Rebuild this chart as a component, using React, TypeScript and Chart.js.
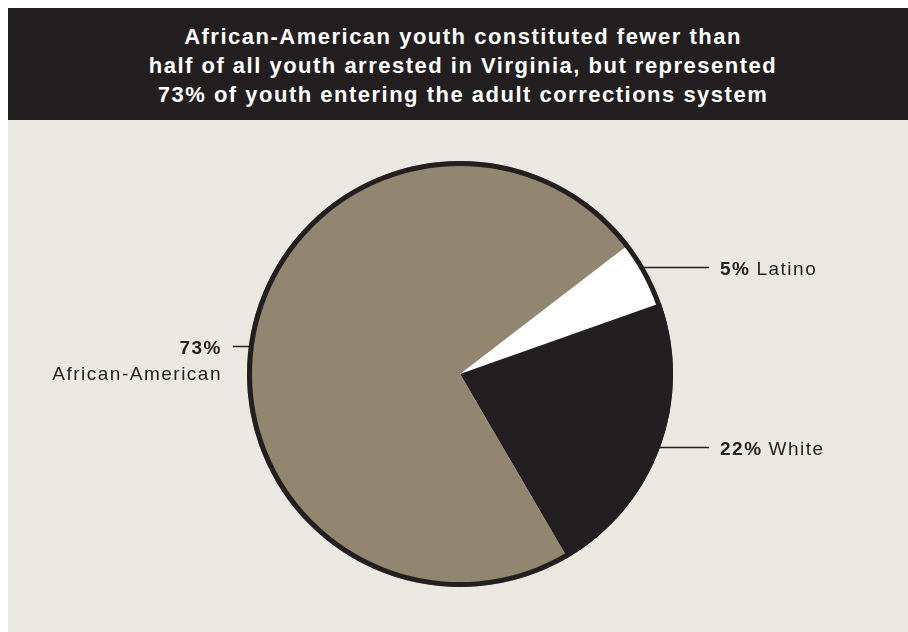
import React, { useEffect, useRef } from "react";
import { Chart, registerables } from "chart.js";

Chart.register(...registerables);

const categories = ["Latino", "White", "African-American"];
const shares = [5, 22, 73];
const percentLabels = ["5%", "22%", "73%"];
const sliceColors = ["#ffffff", "#231f20", "#928670"];
// fraction along each slice's arc where its leader line starts
const labelAnchor = [0.41, 0.5, 0.486];

const titleLines = [
  "African-American youth constituted fewer than",
  "half of all youth arrested in Virginia, but represented",
  "73% of youth entering the adult corrections system",
];

const INK = "#231f20";
const BEIGE = "#ebe8e2";
const FONT = "'Liberation Sans', Arial, sans-serif";

const outlineAndLabels = {
  id: "outlineAndLabels",
  afterDatasetsDraw(chart: any) {
    const ctx = chart.ctx as CanvasRenderingContext2D;
    const arcs = chart.getDatasetMeta(0).data as any[];
    if (!arcs.length) return;
    const cx = arcs[0].x;
    const cy = arcs[0].y;
    const r = arcs[0].outerRadius;
    ctx.save();
    const anchors: { y: number; right: boolean; i: number }[] = [];
    arcs.forEach((arc, i) => {
      const p = arc.getProps(["startAngle", "endAngle"], true);
      const ang = p.startAngle + (p.endAngle - p.startAngle) * labelAnchor[i];
      const ex = cx + Math.cos(ang) * r;
      const ey = cy + Math.sin(ang) * r;
      const right = Math.cos(ang) >= 0;
      const y = Math.round(ey) + 0.5;
      ctx.beginPath();
      ctx.lineWidth = 1.5;
      ctx.strokeStyle = INK;
      if (right) {
        ctx.moveTo(ex - 4, y);
        ctx.lineTo(cx + r + 36, y);
      } else {
        ctx.moveTo(ex + 4, y);
        ctx.lineTo(cx - r - 14, y);
      }
      ctx.stroke();
      anchors.push({ y, right, i });
    });
    // outer ring
    ctx.beginPath();
    ctx.arc(cx, cy, r - 2.5, 0, Math.PI * 2);
    ctx.lineWidth = 5;
    ctx.strokeStyle = INK;
    ctx.stroke();
    // texts
    ctx.fillStyle = INK;
    ctx.textBaseline = "alphabetic";
    (ctx as any).letterSpacing = "1.5px";
    anchors.forEach(({ y, right, i }) => {
      if (right) {
        const x0 = cx + r + 47;
        ctx.textAlign = "left";
        ctx.font = `bold 19px ${FONT}`;
        ctx.fillText(percentLabels[i], x0, y + 7);
        const w = ctx.measureText(percentLabels[i]).width;
        ctx.font = `19px ${FONT}`;
        ctx.fillText(categories[i], x0 + w + 6, y + 7);
      } else {
        const x1 = cx - r - 25;
        ctx.textAlign = "right";
        ctx.font = `bold 19px ${FONT}`;
        ctx.fillText(percentLabels[i], x1, y + 7);
        ctx.font = `19px ${FONT}`;
        ctx.fillText(categories[i], x1, y + 33);
      }
    });
    ctx.restore();
  },
};

export default function App() {
  const canvasRef = useRef<HTMLCanvasElement | null>(null);

  useEffect(() => {
    document.body.style.overflow = "hidden";
    const canvas = canvasRef.current;
    if (!canvas) return;
    const chart = new Chart(canvas, {
      type: "pie",
      data: {
        labels: categories,
        datasets: [
          {
            data: shares,
            backgroundColor: sliceColors,
            borderWidth: 0,
            hoverOffset: 0,
          },
        ],
      },
      options: {
        animation: false,
        responsive: true,
        maintainAspectRatio: false,
        rotation: 52.5,
        layout: { padding: { top: 41, bottom: 45, left: 0, right: 16 } },
        plugins: {
          legend: { display: false },
          tooltip: { enabled: false },
          title: { display: false },
        },
        events: [],
      },
      plugins: [outlineAndLabels],
    });
    return () => chart.destroy();
  }, []);

  return (
    <div
      style={{
        position: "fixed",
        left: 8,
        top: 8,
        right: 0,
        bottom: 0,
        overflow: "hidden",
        background: BEIGE,
        fontFamily: FONT,
      }}
    >
      <div style={{ background: INK, height: 112, width: "100%", position: "absolute", left: 0, top: 0 }} />
      <div style={{ position: "absolute", left: 0, top: 0, width: 920 }}>
        <div
          style={{
            color: "#ffffff",
            height: 112,
            boxSizing: "border-box",
            paddingTop: 14,
            paddingRight: 10,
            textAlign: "center",
            fontWeight: "bold",
            fontSize: 22,
            lineHeight: "29px",
            letterSpacing: "1.5px",
            whiteSpace: "nowrap",
          }}
        >
          {titleLines.map((l, i) => (
            <div key={i}>{l}</div>
          ))}
        </div>
        <div style={{ position: "relative", height: 512, width: 920 }}>
          <canvas ref={canvasRef} />
        </div>
      </div>
    </div>
  );
}
